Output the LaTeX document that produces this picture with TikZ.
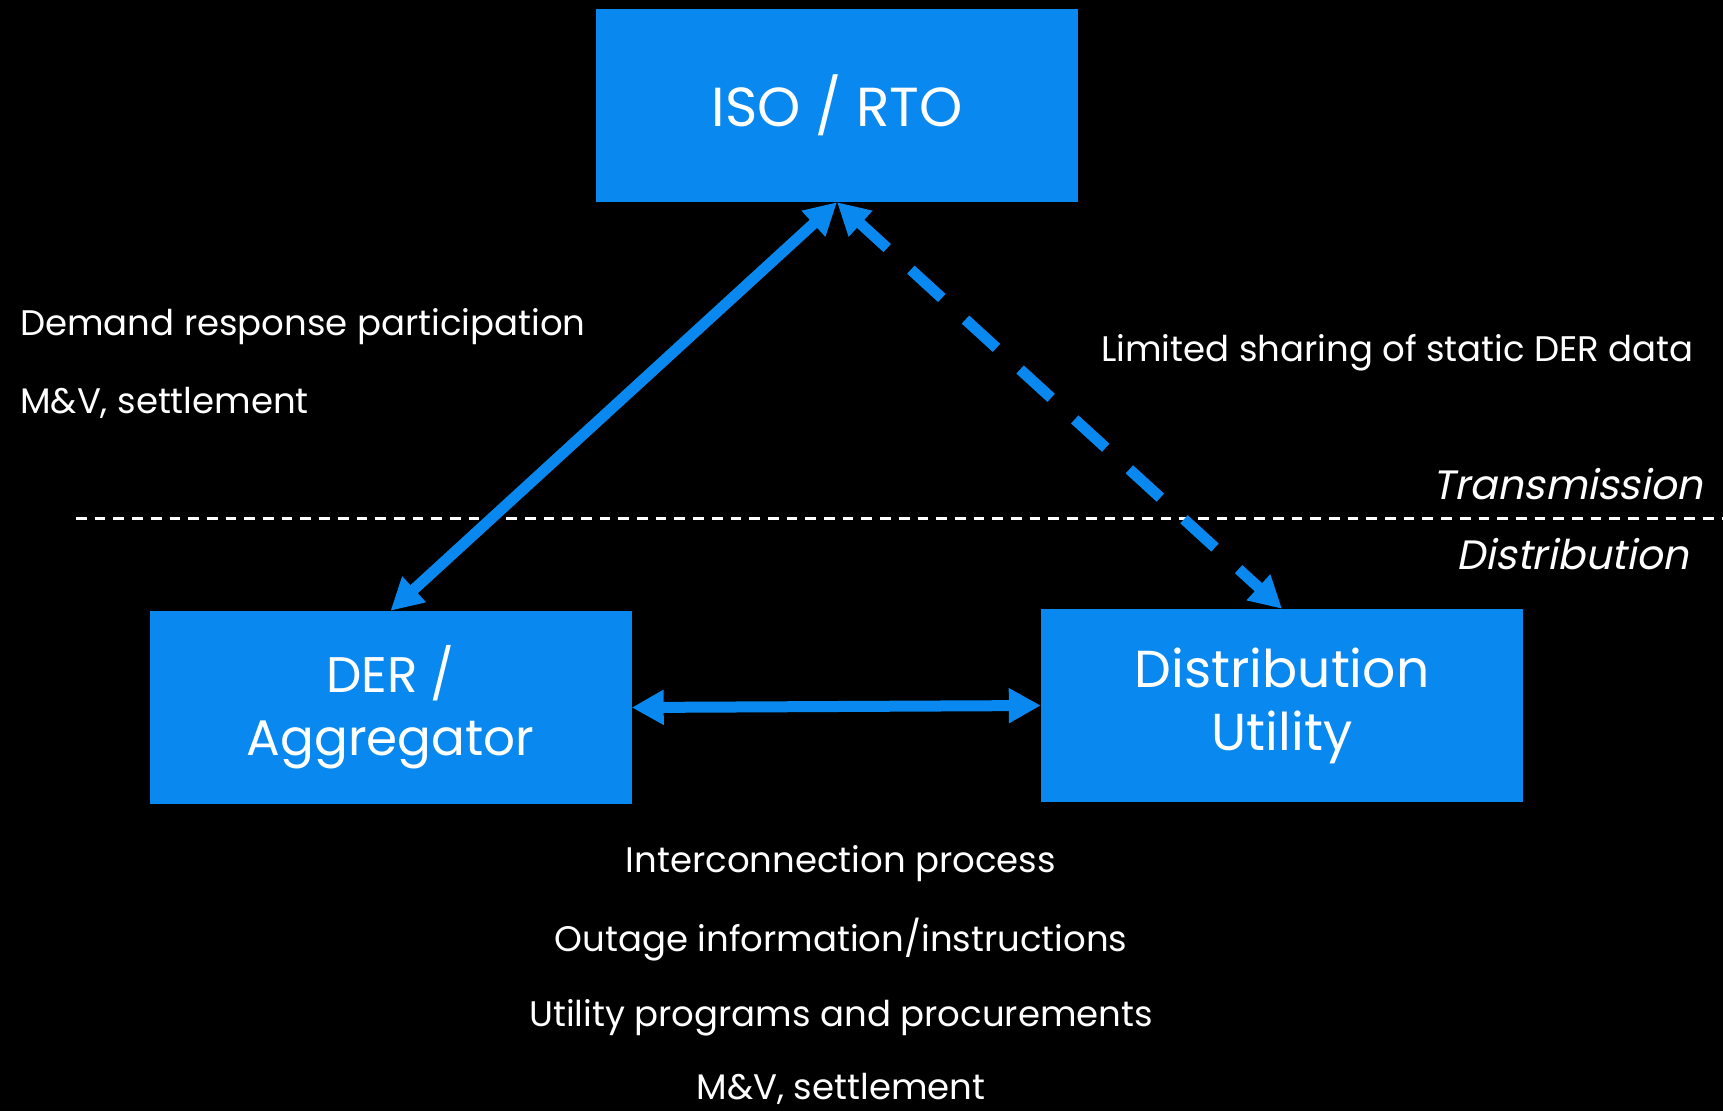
\documentclass[tikz,border=0pt]{standalone}
\usepackage{fontspec}
\setmainfont{Poppins}
\newfontfamily\slantfont[FakeSlant=0.2]{Poppins}
\usetikzlibrary{arrows.meta}
\definecolor{boxblue}{RGB}{9,136,240}
\begin{document}
\begin{tikzpicture}[x=1pt,y=-1pt,
  entity/.style={fill=boxblue, draw=none, minimum width=482pt, minimum height=193pt,
    inner sep=0pt, text=white, align=center},
  link/.style={boxblue, line width=11pt, {Triangle[length=32pt,width=33pt]}-{Triangle[length=32pt,width=33pt]}},
  note/.style={text=white, inner sep=0pt, font=\fontsize{35.5}{40}\selectfont},
  layer/.style={text=white, inner sep=0pt, font=\fontsize{41}{46}\selectfont\slantfont}]
  % page and background
  \fill[black] (0,0) rectangle (1723,1111);
  \useasboundingbox (0,0) rectangle (1723,1111);

  % the three parties
  \node[entity, font=\fontsize{55}{66}\selectfont] (iso) at (837,105.5) {ISO / RTO};
  \node[entity, font=\fontsize{50}{63}\selectfont] (der) at (390.5,707.5) {DER /\\Aggregator};
  \node[entity, font=\fontsize{52}{63}\selectfont] (du) at (1282,705.5) {Distribution\\Utility};

  % transmission / distribution boundary
  \coordinate (bndL) at (76,518);
  \coordinate (bndR) at (1723,518);
  \draw[white, line width=3pt, dash pattern=on 10.7pt off 8pt] (bndL) -- (bndR);

  % interactions
  \draw[link] (der.north) -- (iso.south);
  \draw[link, dash pattern=on 42pt off 32pt, dash phase=4pt] (iso.south) -- (du.north);
  \draw[link] (der.east) -- (du.west);

  % labels
  \node[note, anchor=west] (dr) at (20,327) {Demand response participation};
  \node[note, anchor=west] (mvA) at (20,403) {M\&V, settlement};
  \node[note, anchor=east] (lim) at (1694,353) {Limited sharing of static DER data};
  \node[layer, anchor=east] (trans) at (1703,484) {Transmission};
  \node[layer, anchor=east] (dist) at (1689,554) {Distribution};
  \node[note] (ic) at (841,864) {Interconnection process};
  \node[note] (out) at (841,940) {Outage information/instructions};
  \node[note] (prog) at (841,1018) {Utility programs and procurements};
  \node[note] (mvB) at (841,1089) {M\&V, settlement};
\end{tikzpicture}
\end{document}
